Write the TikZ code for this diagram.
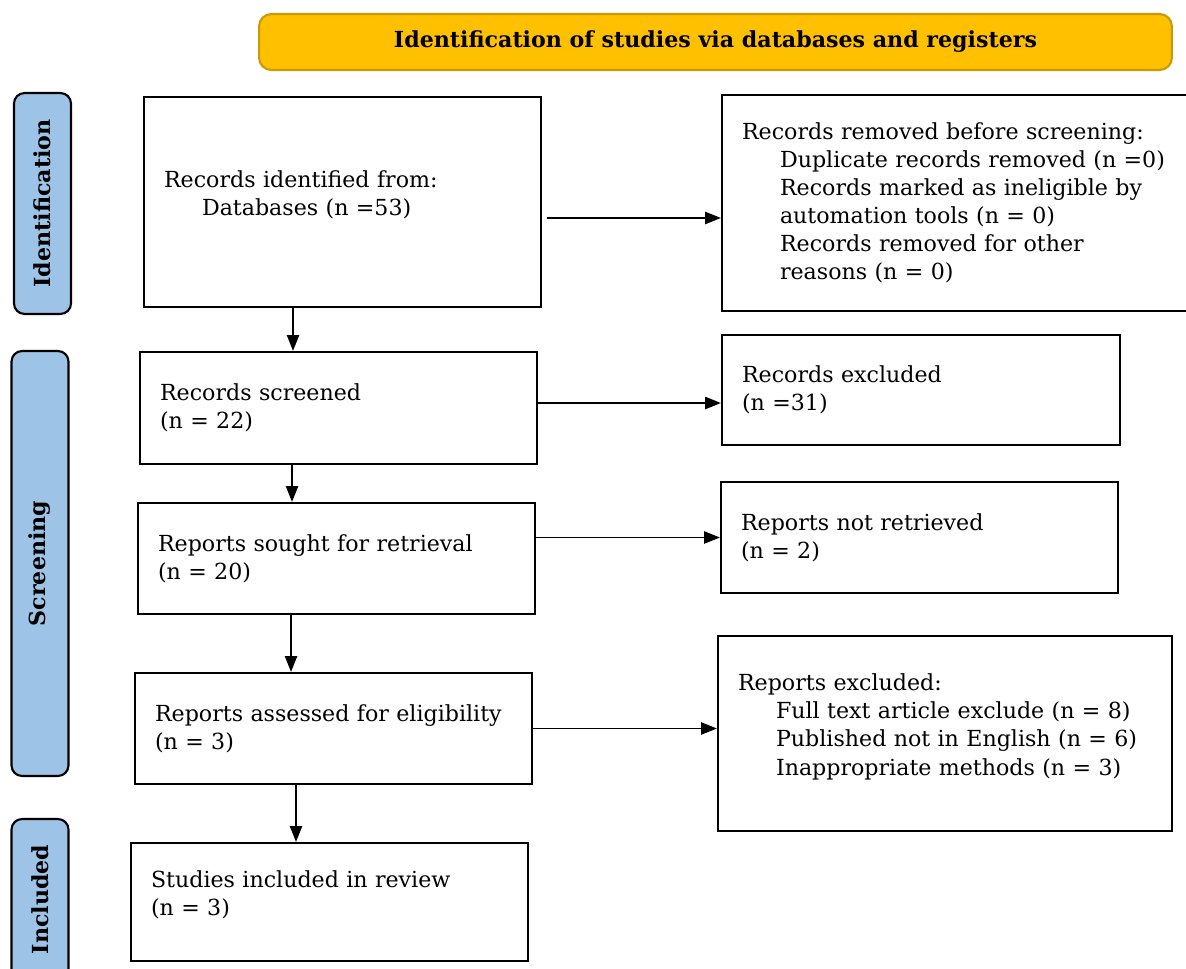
\documentclass[tikz,border=0pt]{standalone}
\usepackage{fontspec}
\setmainfont{DejaVu Serif}
\usetikzlibrary{arrows.meta,calc,positioning}
\definecolor{headgold}{HTML}{FFC000}
\definecolor{headline}{HTML}{C99A06}
\definecolor{phaseblue}{HTML}{9DC3E6}
\tikzset{
  box/.style={draw,line width=1.3pt,align=left,inner xsep=0.4cm,font=\fontsize{12.6}{16}\selectfont},
  phase/.style={draw,line width=1.2pt,fill=phaseblue,rounded corners=6pt,rotate=90,minimum height=1.14cm,font=\bfseries\fontsize{12.6}{14}\selectfont},
  flow/.style={->,line width=0.8pt}
}
\begin{document}
\begin{tikzpicture}[x=0.02cm,y=-0.02cm,>={Triangle[length=9pt,width=7pt]}]
\useasboundingbox (0,0) rectangle (1186,969);
\node[draw=headline,line width=1.2pt,fill=headgold,rounded corners=7pt,minimum width=18.26cm,minimum height=1.12cm,font=\bfseries\fontsize{12.6}{14}\selectfont] (head) at (715.5,42) {Identification of studies via databases and registers};

\node[phase,minimum width=4.42cm] (labident) at (42.5,203.5) {Identification};
\node[phase,minimum width=8.5cm] (labscreen) at (40,563.5) {Screening};
\node[phase,minimum width=3.22cm] (labincl) at (40,899.5) {Included};

\node[box,minimum width=7.94cm,minimum height=4.2cm,text width=7.14cm] (ident) at (342.5,202) {Records identified from:\\\hspace*{0.76cm}Databases (n =53)\\[-0.2cm]\mbox{}};
\node[box,minimum width=9.46cm,minimum height=4.32cm,text width=8.66cm] (removed) at (958.5,203) {Records removed before screening:\\
\hspace*{0.76cm}Duplicate records removed (n =0)\\
\hspace*{0.76cm}Records marked as ineligible by\\
\hspace*{0.76cm}automation tools (n = 0)\\
\hspace*{0.76cm}Records removed for other\\
\hspace*{0.76cm}reasons (n = 0)};
\node[box,minimum width=7.94cm,minimum height=2.24cm,text width=7.14cm] (screened) at (338.5,408) {Records screened\\(n = 22)};
\node[box,minimum width=7.96cm,minimum height=2.2cm,text width=7.16cm] (excluded) at (921,390) {Records excluded\\(n =31)};
\node[box,minimum width=7.94cm,minimum height=2.22cm,text width=7.14cm] (sought) at (336.5,558.5) {Reports sought for retrieval\\(n = 20)};
\node[box,minimum width=7.94cm,minimum height=2.22cm,text width=7.14cm] (notretr) at (919.5,537.5) {Reports not retrieved\\(n = 2)};
\node[box,minimum width=7.94cm,minimum height=2.22cm,text width=7.14cm] (assessed) at (333.5,728.5) {Reports assessed for eligibility\\(n = 3)};
\node[box,minimum width=9.08cm,minimum height=3.9cm,text width=8.28cm] (repexcl) at (945,733.5) {Reports excluded:\\
\hspace*{0.76cm}Full text article exclude (n = 8)\\
\hspace*{0.76cm}Published not in English (n = 6)\\
\hspace*{0.76cm}Inappropriate methods (n = 3)\\[-0.2cm]\mbox{}};
\node[box,minimum width=7.94cm,minimum height=2.36cm,text width=7.14cm] (included) at (329.5,902) {Studies included in review\\(n = 3)\\[-0.2cm]\mbox{}};

\draw[flow] ([xshift=-0.99cm]ident.south) -- ([xshift=-0.99cm]ident.south |- screened.north);
\draw[flow] ([xshift=-0.93cm]screened.south) -- ([xshift=-0.93cm]screened.south |- sought.north);
\draw[flow] ([xshift=-0.91cm]sought.south) -- ([xshift=-0.91cm]sought.south |- assessed.north);
\draw[flow] ([xshift=-0.75cm]assessed.south) -- ([xshift=-0.75cm]assessed.south |- included.north);

\draw[flow] ([xshift=0.1cm,yshift=-0.32cm]ident.east) -- ([yshift=-0.32cm]ident.east -| removed.west);
\draw[flow] ([yshift=0.1cm]screened.east) -- ([yshift=0.1cm]screened.east -| excluded.west);
\draw[flow] (notretr.west -| sought.east) -- (notretr.west);
\draw[flow] (assessed.east) -- (assessed.east -| repexcl.west);
\end{tikzpicture}
\end{document}
